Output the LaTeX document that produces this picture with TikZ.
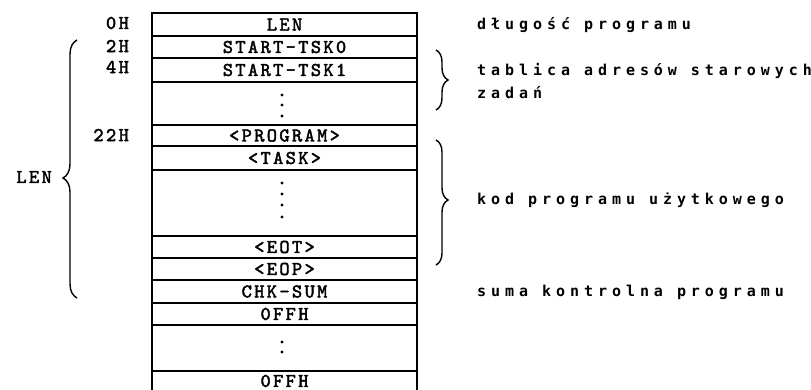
\documentclass[tikz,border=0pt]{standalone}
\usepackage{fontspec}
\newfontfamily\dotfont{DejaVu Sans Mono}[LetterSpace=33]
\newfontfamily\cellfont{lmmono10-regular.otf}[LetterSpace=12,FakeBold=2.2]
\usetikzlibrary{decorations.pathreplacing}

\begin{document}
\begin{tikzpicture}[x=1pt, y=-1pt,
        cell/.style={draw, line width=1.6pt, minimum width=265pt, inner sep=0pt, outer sep=0pt, font=\fontsize{19.5}{19}\cellfont},
        addr/.style={anchor=east, inner sep=0pt, font=\fontsize{19.5}{19}\cellfont},
        note/.style={anchor=west, align=left, inner sep=0pt, font=\fontsize{15}{23}\dotfont\bfseries},
        curly/.style={decorate, line width=1.4pt}
        ]
        \useasboundingbox (0,0) rectangle (811,390);

        % memory map
        \node[cell, minimum height=23pt] (len) at (284.5,24.5) {LEN};
        \node[cell, minimum height=22pt] (tskA) at (284.5,47) {START–TSK0};
        \node[cell, minimum height=24pt] (tskB) at (284.5,70) {START–TSK1};
        \node[cell, minimum height=43pt] (gapA) at (284.5,103.5) {};
        \node[cell, minimum height=21pt] (prog) at (284.5,135.5) {<PROGRAM>};
        \node[cell, minimum height=24pt] (task) at (284.5,158) {<TASK>};
        \node[cell, minimum height=66pt] (gapB) at (284.5,203) {};
        \node[cell, minimum height=22pt] (eot) at (284.5,247) {<EOT>};
        \node[cell, minimum height=22pt] (eop) at (284.5,269) {<EOP>};
        \node[cell, minimum height=23pt] (chk) at (284.5,291.5) {CHK–SUM};
        \node[cell, minimum height=22pt] (ffA) at (284.5,314) {0FFH};
        \node[cell, minimum height=46pt] (gapC) at (284.5,348) {};
        \node[cell, draw=none, minimum height=20pt] (ffB) at (284.5,381) {0FFH};
        \draw[line width=1.6pt] ([yshift=-4pt]ffB.south west) -- (ffB.north west) -- (ffB.north east) -- ([yshift=-4pt]ffB.south east);

        % vertical dots
        \foreach \y in {95,105,116} \fill (282,\y) circle (1.6);
        \foreach \y in {183,194,205,217} \fill (282,\y) circle (1.6);
        \foreach \y in {342,352} \fill (282,\y) circle (1.6);

        % addresses
        \node[addr] (aLen) at (129,23) {0H};
        \node[addr] (aTskA) at (129,46) {2H};
        \node[addr] (aTskB) at (129,67) {4H};
        \node[addr] (aProg) at (129,135) {22H};

        % braces
        \draw[curly, decoration={brace, amplitude=14pt, aspect=0.465}] (77,298) -- (77,40);
        \node[addr] (lenLbl) at (52,177) {LEN};
        \draw[curly, decoration={brace, amplitude=12pt, aspect=0.5}] (436,50) -- (436,110);
        \draw[curly, decoration={brace, amplitude=12pt, aspect=0.48}] (436,140) -- (436,265);

        % descriptions
        \node[note] (dLen) at (477,25) {długość programu};
        \node[note] (dTab) at (477,81.5) {tablica adresów starowych\\zadań};
        \node[note] (dKod) at (477,200) {kod programu użytkowego};
        \node[note] (dSum) at (477,292) {suma kontrolna programu};
\end{tikzpicture}
\end{document}
